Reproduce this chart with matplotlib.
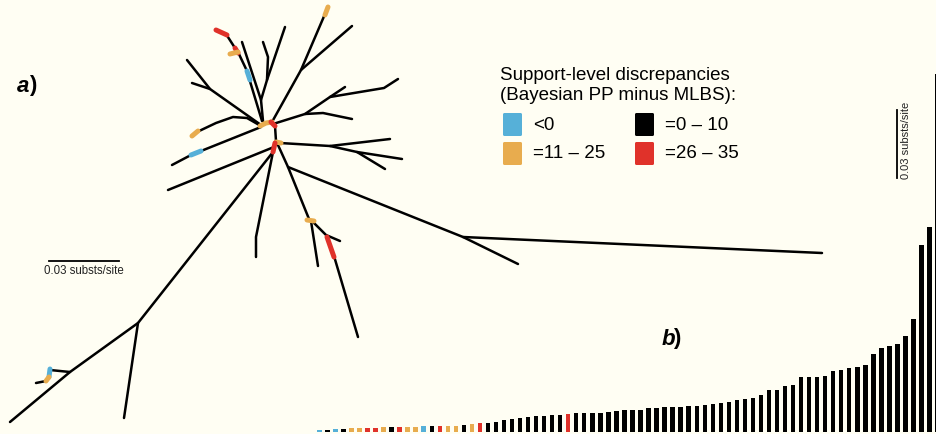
import matplotlib.pyplot as plt
from matplotlib.patches import FancyBboxPatch

plt.rcParams['font.family'] = ['Liberation Sans', 'DejaVu Sans']

BG = '#fffef3'
COLORS = {'B': '#56b0d8', 'K': '#000000', 'O': '#e8ac4e', 'R': '#e0322a'}

# legend classes (Bayesian PP minus MLBS)
legend_cls = ['B', 'O', 'K', 'R']
legend_labels = ['<0', '=11 \u2013 25', '=0 \u2013 10', '=26 \u2013 35']

# panel b: branch lengths (subst/site), sorted, with discrepancy class
branch_len = [
    0.0010, 0.0010, 0.0013, 0.0013, 0.0018, 0.0018, 0.0019, 0.0019, 0.0020, 0.0022,
    0.0023, 0.0023, 0.0024, 0.0026, 0.0026, 0.0026, 0.0027, 0.0027, 0.0031, 0.0035,
    0.0039, 0.0041, 0.0044, 0.0053, 0.0059, 0.0063, 0.0067, 0.0070, 0.0072, 0.0073,
    0.0077, 0.0080, 0.0082, 0.0082, 0.0085, 0.0085, 0.0088, 0.0093, 0.0095, 0.0097,
    0.0098, 0.0106, 0.0107, 0.0109, 0.0109, 0.0112, 0.0113, 0.0115, 0.0118, 0.0122,
    0.0128, 0.0134, 0.0140, 0.0146, 0.0149, 0.0163, 0.0185, 0.0185, 0.0203, 0.0206,
    0.0243, 0.0243, 0.0243, 0.0247, 0.0267, 0.0272, 0.0284, 0.0287, 0.0294, 0.0345,
    0.0371, 0.0378, 0.0387, 0.0422, 0.0500, 0.0824, 0.0904, 0.1580,
]
branch_cls = list('BKBKOORROKROOBKROOKOR' + 'K' * 10 + 'R' + 'K' * 46)

# panel a: unrooted tree layout (layout units, 70 units = 0.03 subst/site)
UNITS_PER_SUB = 70 / 0.03
tree_paths = [
    # central hub
    ('O', [(260, 126), (266, 123), (272, 122)]),
    ('R', [(271, 122), (275, 126)]),
    ('K', [(275, 126), (276, 141)]),
    ('O', [(276, 142), (281, 143)]),
    ('R', [(275, 143), (273, 152)]),
    # upper left clade
    ('K', [(261, 125), (210, 89), (187, 60)]),
    ('K', [(210, 89), (192, 83)]),
    ('K', [(262, 121), (249, 78)]),
    ('B', [(250, 80), (247, 71)]),
    ('K', [(247, 71), (238, 52)]),
    ('R', [(238, 53), (235, 48)]),
    ('O', [(238, 52), (230, 54)]),
    ('K', [(235, 48), (226, 34)]),
    ('R', [(227, 35), (216, 30)]),
    ('K', [(263, 121), (261, 100), (242, 42)]),
    ('K', [(261, 100), (267, 80), (285, 27)]),
    ('K', [(267, 80), (268, 57), (263, 42)]),
    # upper right clade
    ('K', [(272, 122), (301, 70), (325, 14)]),
    ('O', [(325, 15), (328, 7)]),
    ('K', [(301, 70), (352, 26)]),
    ('K', [(273, 124), (305, 114), (330, 97), (384, 88), (398, 79)]),
    ('K', [(330, 97), (345, 87)]),
    ('K', [(305, 114), (323, 113), (352, 119)]),
    # left clades
    ('K', [(261, 126), (247, 118), (233, 117), (216, 123), (197, 132)]),
    ('O', [(198, 131), (192, 136)]),
    ('K', [(261, 127), (201, 151)]),
    ('B', [(201, 151), (191, 155)]),
    ('K', [(191, 155), (172, 165)]),
    ('K', [(274, 147), (168, 190)]),
    # right of lower hub
    ('K', [(280, 143), (330, 146), (390, 139)]),
    ('K', [(330, 146), (357, 152), (402, 159)]),
    ('K', [(357, 152), (385, 169)]),
    # long right clade
    ('K', [(278, 145), (288, 167), (463, 237), (822, 253)]),
    ('K', [(463, 237), (518, 264)]),
    ('K', [(288, 167), (309, 219)]),
    ('O', [(307, 220), (314, 221)]),
    ('K', [(311, 221), (318, 266)]),
    ('K', [(312, 221), (326, 235), (340, 241)]),
    ('R', [(327, 237), (334, 257)]),
    ('K', [(334, 256), (358, 337)]),
    ('K', [(273, 152), (256, 237), (256, 257)]),
    # long lower left clade
    ('K', [(273, 152), (138, 323), (124, 418)]),
    ('K', [(138, 323), (70, 372), (10, 422)]),
    ('K', [(70, 372), (50, 370)]),
    ('B', [(50, 369), (49, 377)]),
    ('O', [(49, 377), (46, 381)]),
    ('K', [(46, 381), (36, 383)]),
]

fig = plt.figure(figsize=(9.37, 4.34), dpi=100, facecolor=BG)

# ---- panel a: tree ----
ax = fig.add_axes([0, 0, 1, 1])
ax.set_xlim(0, 937)
ax.set_ylim(434, 0)
ax.axis('off')
ax.set_facecolor(BG)

for cls, pts in tree_paths:
    xs, ys = zip(*pts)
    if cls == 'K':
        ax.plot(xs, ys, color=COLORS[cls], lw=1.8, solid_capstyle='round',
                solid_joinstyle='round', zorder=2)
    else:
        ax.plot(xs, ys, color=COLORS[cls], lw=3.6, solid_capstyle='round', zorder=3)

# scale bar for tree
sx0, sy = 49, 261
ax.plot([sx0, sx0 + 0.03 * UNITS_PER_SUB], [sy, sy], color='black', lw=1.3)
ax.text(sx0 + 0.015 * UNITS_PER_SUB, sy + 10, '0.03 substs/site', fontsize=8.3,
        ha='center', va='center', color='#222222')

ax.text(17, 87, 'a', fontsize=16, fontweight='bold', fontstyle='italic',
        ha='left', va='center')
ax.text(29.5, 86, ')', fontsize=16, fontweight='bold', ha='left', va='center')

# legend
ax.text(500, 75, 'Support-level discrepancies', fontsize=13.5, ha='left', va='center')
ax.text(500, 96, '(Bayesian PP minus MLBS):', fontsize=13.5, ha='left', va='center')
for i, (cls, lab) in enumerate(zip(legend_cls, legend_labels)):
    col, row = divmod(i, 2)
    px = 503 + col * 132
    py = 113 + row * 29
    ax.add_patch(FancyBboxPatch((px, py), 19, 23, boxstyle='round,pad=0,rounding_size=1.5',
                                facecolor=COLORS[cls], edgecolor='none'))
    ax.text(px + 30, py + 12, lab, fontsize=13.5, ha='left', va='center')

# ---- panel b: sorted branch lengths ----
px_per_bar = 8.03
left_px, base_px, top_px = 319.3 - px_per_bar / 2, 432, 60
bx = fig.add_axes([left_px / 937, (434 - base_px) / 434,
                   (937 - left_px) / 937, (base_px - top_px) / 434])
bx.patch.set_alpha(0)
n = len(branch_len)
bx.bar(range(n), branch_len, width=0.55, color=[COLORS[c] for c in branch_cls])
bx.set_xlim(-0.5, (937 - 319.3) / px_per_bar)
bx.set_ylim(0, (base_px - top_px) * 0.03 / 68)
bx.axis('off')

# vertical scale bar for bars
sbx = (897 - 319.3) / px_per_bar
bx.plot([sbx, sbx], [0.1121, 0.1421], color='black', lw=1.3)
bx.text(sbx + 1.1, 0.1285, '0.03 substs/site', rotation=90, fontsize=8,
        ha='center', va='center', color='#222222')

bx.text(42.6, 0.0407, 'b', fontsize=16, fontweight='bold', fontstyle='italic',
        ha='left', va='center')
bx.text(44.1, 0.0411, ')', fontsize=16, fontweight='bold', ha='left', va='center')

fig.savefig('out.png', dpi=100, facecolor=BG)
